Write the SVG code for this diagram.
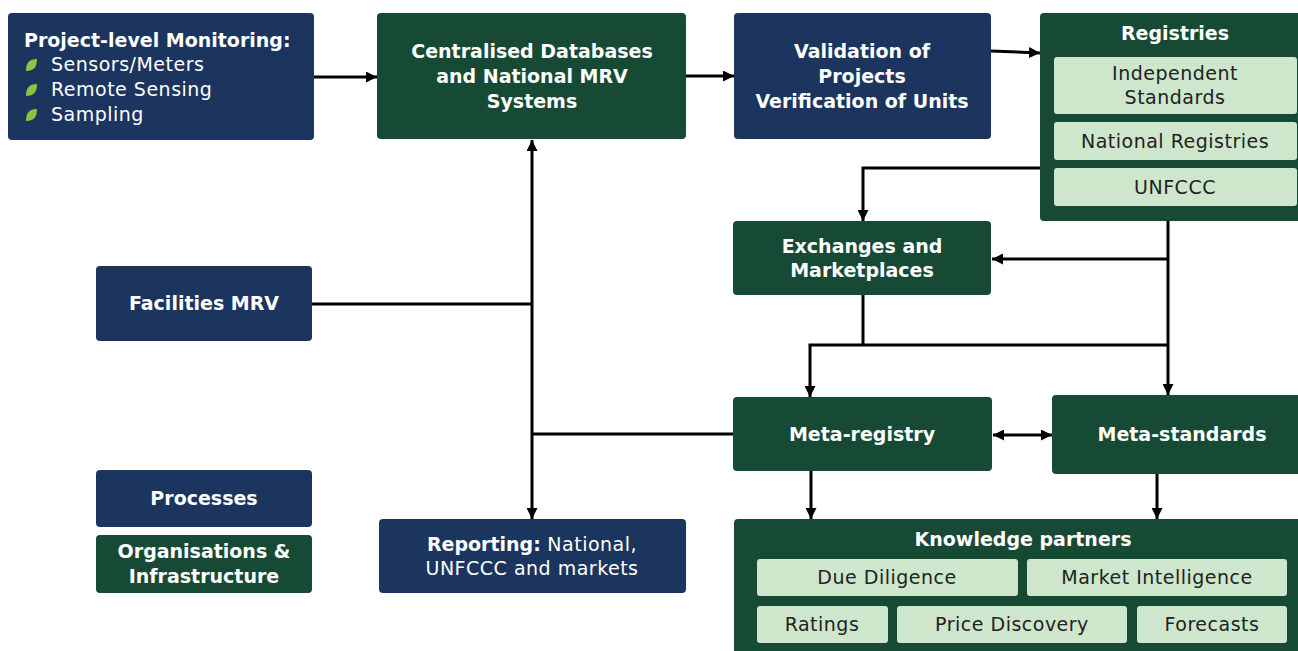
<svg xmlns="http://www.w3.org/2000/svg" width="1298" height="651" viewBox="0 0 1298 651">
  <defs>
    <marker id="arrow" viewBox="0 0 10 10" refX="10" refY="5" markerWidth="11" markerHeight="11" markerUnits="userSpaceOnUse" orient="auto-start-reverse">
      <path d="M0,0 L10,5 L0,10 Z" fill="#000"/>
    </marker>
    <style>
      .navy { fill: #1c355e; }
      .green { fill: #174a35; }
      .light { fill: #cde6cc; }
      .t { font-family: "DejaVu Sans", "Liberation Sans", sans-serif; font-size: 19px; letter-spacing: 0.5px; }
      .b { font-weight: 700; letter-spacing: 0; }
      .hb { font-weight: 700; letter-spacing: 0; fill: #ffffff; text-anchor: middle; }
      .w { fill: #ffffff; }
      .d { fill: #222222; text-anchor: middle; }
      .leaf { fill: #8cc63e; }
      .line { fill: none; stroke: #000; stroke-width: 3; }
    </style>
  </defs>
  <rect width="1298" height="651" fill="#ffffff"/>

  <!-- connectors -->
  <g id="connectors">
    <path class="line" d="M314,77 H377" marker-end="url(#arrow)"/>
    <path class="line" d="M686,76 H734" marker-end="url(#arrow)"/>
    <path class="line" d="M991,51 L1040,53" marker-end="url(#arrow)"/>
    <path class="line" d="M1040,168 H863 V221" marker-end="url(#arrow)"/>
    <path class="line" d="M1168,221 V395" marker-end="url(#arrow)"/>
    <path class="line" d="M1168,259 H992" marker-end="url(#arrow)"/>
    <path class="line" d="M863,295 V345"/>
    <path class="line" d="M1168,345 H810 V397" marker-end="url(#arrow)"/>
    <path class="line" d="M993,435 H1052" marker-start="url(#arrow)" marker-end="url(#arrow)"/>
    <path class="line" d="M811,471 V519" marker-end="url(#arrow)"/>
    <path class="line" d="M1157,474 V519" marker-end="url(#arrow)"/>
    <path class="line" d="M532,304 V140" marker-end="url(#arrow)"/>
    <path class="line" d="M532,304 V519" marker-end="url(#arrow)"/>
    <path class="line" d="M312,304 H533"/>
    <path class="line" d="M733,434 H531"/>
  </g>

  <!-- Project-level monitoring -->
  <g id="project-monitoring">
    <rect class="navy" x="8" y="13" width="306" height="127" rx="4"/>
    <text class="t b" x="24" y="47" fill="#fff">Project-level Monitoring:</text>
    <path class="leaf" d="M26,71 C26,63 29,59 37,59 C37,67 34,71 26,71 Z"/>
    <path class="leaf" d="M26,96 C26,88 29,84 37,84 C37,92 34,96 26,96 Z"/>
    <path class="leaf" d="M26,121 C26,113 29,109 37,109 C37,117 34,121 26,121 Z"/>
    <text class="t w" x="51" y="71">Sensors/Meters</text>
    <text class="t w" x="51" y="96">Remote Sensing</text>
    <text class="t w" x="51" y="121">Sampling</text>
  </g>

  <!-- Centralised databases -->
  <g id="centralised-databases">
    <rect class="green" x="377" y="13" width="309" height="126" rx="4"/>
    <text class="t hb" x="532" y="58">Centralised Databases</text>
    <text class="t hb" x="532" y="83">and National MRV</text>
    <text class="t hb" x="532" y="108">Systems</text>
  </g>

  <!-- Validation / verification -->
  <g id="validation">
    <rect class="navy" x="734" y="13" width="257" height="126" rx="4"/>
    <text class="t hb" x="862" y="58">Validation of</text>
    <text class="t hb" x="862" y="83">Projects</text>
    <text class="t hb" x="862" y="108">Verification of Units</text>
  </g>

  <!-- Registries -->
  <g id="registries">
    <rect class="green" x="1040" y="13" width="266" height="208" rx="4"/>
    <text class="t hb" x="1175" y="40">Registries</text>
    <rect class="light" x="1054" y="57" width="243" height="57" rx="3"/>
    <text class="t d" x="1175" y="80">Independent</text>
    <text class="t d" x="1175" y="104">Standards</text>
    <rect class="light" x="1054" y="122" width="243" height="38" rx="3"/>
    <text class="t d" x="1175" y="148">National Registries</text>
    <rect class="light" x="1054" y="168" width="243" height="38" rx="3"/>
    <text class="t d" x="1175" y="194">UNFCCC</text>
  </g>

  <!-- Exchanges -->
  <g id="exchanges">
    <rect class="green" x="733" y="221" width="258" height="74" rx="4"/>
    <text class="t hb" x="862" y="253">Exchanges and</text>
    <text class="t hb" x="862" y="277">Marketplaces</text>
  </g>

  <!-- Facilities MRV -->
  <g id="facilities-mrv">
    <rect class="navy" x="96" y="266" width="216" height="75" rx="4"/>
    <text class="t hb" x="204" y="310">Facilities MRV</text>
  </g>

  <!-- Meta-registry -->
  <g id="meta-registry">
    <rect class="green" x="733" y="397" width="259" height="74" rx="4"/>
    <text class="t hb" x="862" y="441">Meta-registry</text>
  </g>

  <!-- Meta-standards -->
  <g id="meta-standards">
    <rect class="green" x="1052" y="395" width="254" height="79" rx="4"/>
    <text class="t hb" x="1182" y="441">Meta-standards</text>
  </g>

  <!-- Legend: processes -->
  <g id="legend-processes">
    <rect class="navy" x="96" y="470" width="216" height="57" rx="4"/>
    <text class="t hb" x="204" y="505">Processes</text>
  </g>

  <!-- Legend: organisations -->
  <g id="legend-organisations">
    <rect class="green" x="96" y="535" width="216" height="58" rx="4"/>
    <text class="t hb" x="204" y="558">Organisations &amp;</text>
    <text class="t hb" x="204" y="583">Infrastructure</text>
  </g>

  <!-- Reporting -->
  <g id="reporting">
    <rect class="navy" x="379" y="519" width="307" height="74" rx="4"/>
    <text class="t" x="532" y="551" fill="#fff" text-anchor="middle"><tspan class="b">Reporting:</tspan> National,</text>
    <text class="t" x="532" y="575" fill="#fff" text-anchor="middle">UNFCCC and markets</text>
  </g>

  <!-- Knowledge partners -->
  <g id="knowledge-partners">
    <rect class="green" x="734" y="519" width="572" height="140" rx="4"/>
    <text class="t hb" x="1023" y="546">Knowledge partners</text>
    <rect class="light" x="757" y="559" width="261" height="37" rx="3"/>
    <text class="t d" x="887" y="584">Due Diligence</text>
    <rect class="light" x="1027" y="559" width="260" height="37" rx="3"/>
    <text class="t d" x="1157" y="584">Market Intelligence</text>
    <rect class="light" x="757" y="606" width="131" height="37" rx="3"/>
    <text class="t d" x="822" y="631">Ratings</text>
    <rect class="light" x="897" y="606" width="230" height="37" rx="3"/>
    <text class="t d" x="1012" y="631">Price Discovery</text>
    <rect class="light" x="1137" y="606" width="150" height="37" rx="3"/>
    <text class="t d" x="1212" y="631">Forecasts</text>
  </g>
</svg>
